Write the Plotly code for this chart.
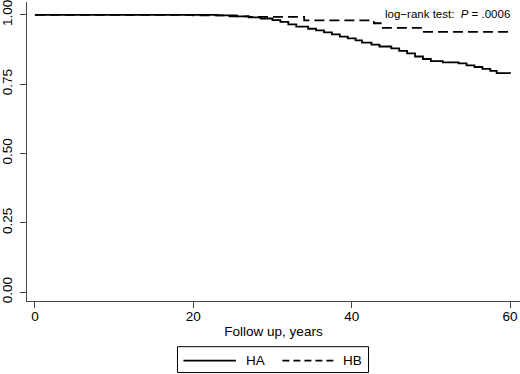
import plotly.graph_objects as go

# Kaplan-Meier step data (time in years, survival probability)
ha_time = [0, 23, 25.5, 27, 28.5, 30, 31, 32, 33, 34.5, 35.5, 36.5, 37.5, 38.5, 39.5,
           40.5, 41.3, 42.5, 43.5, 45, 46, 47, 48, 49, 50, 51.5, 53.5, 54.5, 55.5,
           56.5, 57.5, 58.3, 60]
ha_surv = [1.0, 0.998, 0.995, 0.991, 0.987, 0.981, 0.975, 0.966, 0.958, 0.950, 0.944,
           0.937, 0.930, 0.922, 0.915, 0.908, 0.900, 0.893, 0.886, 0.879, 0.870, 0.861,
           0.850, 0.841, 0.833, 0.829, 0.825, 0.818, 0.812, 0.805, 0.798, 0.790, 0.789]
hb_time = [0, 20, 24, 27, 34, 42.8, 43.8, 49, 60]
hb_surv = [1.0, 0.998, 0.995, 0.993, 0.980, 0.970, 0.953, 0.939, 0.939]

x_ticks = [0, 20, 40, 60]
y_ticks = [0.0, 0.25, 0.5, 0.75, 1.0]
y_tick_labels = ["0.00", "0.25", "0.50", "0.75", "1.00"]
series_names = ["HA", "HB"]
x_title = "Follow up, years"

FONT = "Liberation Sans, Arial, Helvetica, sans-serif"
W, H = 520, 374
ML, MB = 22, 73
PW, PH = W - ML, H - MB


def px_x(p):
    return (p - ML) / PW


def px_y(p):
    return (PH - p) / PH


fig = go.Figure()
fig.add_trace(go.Scatter(x=ha_time, y=ha_surv, mode="lines", line_shape="hv",
                         line=dict(color="black", width=1.8), name=series_names[0],
                         showlegend=False))
fig.add_trace(go.Scatter(x=hb_time, y=hb_surv, mode="lines", line_shape="hv",
                         line=dict(color="black", width=1.8, dash="10px,5px"),
                         name=series_names[1], showlegend=False))

axis_col = "#444444"
fig.update_layout(
    width=W, height=H, autosize=False,
    margin=dict(l=ML, r=0, t=0, b=MB),
    paper_bgcolor="white", plot_bgcolor="white",
    font=dict(family=FONT, size=13.5, color="black"),
    xaxis=dict(range=[-1.0, 61.25], tickvals=x_ticks, showgrid=False, zeroline=False,
               showline=True, linecolor=axis_col, linewidth=1.3,
               ticks="outside", ticklen=6, tickcolor=axis_col, tickwidth=1.3,
               ticklabeloverflow="allow", ticklabelstandoff=-3,
               title=dict(text=x_title, standoff=3, font=dict(size=13.5))),
    yaxis=dict(range=[-0.0322, 1.0466], tickvals=y_ticks, ticktext=y_tick_labels,
               tickangle=-90, showgrid=False, zeroline=False,
               showline=True, linecolor=axis_col, linewidth=1.3,
               ticks="outside", ticklen=6, tickcolor=axis_col, tickwidth=1.3,
               ticklabelstandoff=2, ticklabeloverflow="allow"),
)

# log-rank annotation
fig.add_annotation(x=px_x(512), y=px_y(12), xref="paper", yref="paper",
                   xanchor="right", yanchor="middle", showarrow=False,
                   text="log\u2212rank test:  <i>P</i> = .0006",
                   font=dict(size=11.5, family=FONT, color="black"))

# legend box drawn manually to match the reference
shapes = [
    dict(type="rect", xref="paper", yref="paper", x0=px_x(174), x1=px_x(367),
         y0=px_y(347), y1=px_y(373), line=dict(color="black", width=1), fillcolor="white"),
    dict(type="line", xref="paper", yref="paper", x0=px_x(180), x1=px_x(233),
         y0=px_y(361), y1=px_y(361), line=dict(color="black", width=1.8)),
    dict(type="line", xref="paper", yref="paper", x0=px_x(280), x1=px_x(333),
         y0=px_y(361), y1=px_y(361), line=dict(color="black", width=1.8, dash="7px,4px")),
]
fig.update_layout(shapes=shapes)
fig.add_annotation(x=px_x(241), y=px_y(361), xref="paper", yref="paper",
                   xanchor="left", yanchor="middle", showarrow=False,
                   text=series_names[0], font=dict(size=13.5, family=FONT))
fig.add_annotation(x=px_x(339), y=px_y(361), xref="paper", yref="paper",
                   xanchor="left", yanchor="middle", showarrow=False,
                   text=series_names[1], font=dict(size=13.5, family=FONT))

fig.write_html("out.html", config={"displayModeBar": False},
               post_script="document.body.style.margin='0';document.body.style.overflow='hidden';")
